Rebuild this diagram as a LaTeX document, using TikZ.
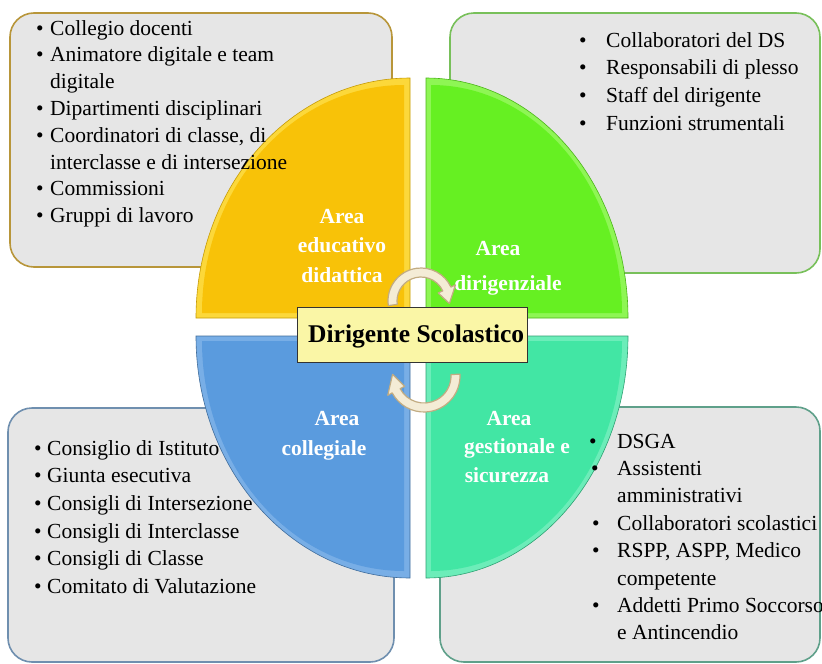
\documentclass[tikz,border=0pt]{standalone}
\usepackage{fontspec}
\setmainfont{Liberation Serif}
\definecolor{boxfill}{HTML}{E6E6E6}
\definecolor{tlborder}{HTML}{B8963A}
\definecolor{trborder}{HTML}{78C05A}
\definecolor{blborder}{HTML}{6F8FAF}
\definecolor{brborder}{HTML}{5FA08A}
\definecolor{yelM}{HTML}{F8C208}
\definecolor{yelL}{HTML}{FCD83A}
\definecolor{grnM}{HTML}{66F022}
\definecolor{grnL}{HTML}{8EF654}
\definecolor{bluM}{HTML}{5A9BDE}
\definecolor{bluL}{HTML}{78AEE6}
\definecolor{tealM}{HTML}{42E6A4}
\definecolor{tealL}{HTML}{6CEDB9}
\definecolor{dsfill}{HTML}{FAF6A6}
\definecolor{arrfill}{HTML}{F4ECD6}
\definecolor{arrdraw}{HTML}{C2AC82}
\begin{document}
\begin{tikzpicture}[x=1pt,y=-1pt,
  infobox/.style={rounded corners=24pt, fill=boxfill, line width=1.6pt},
  qlabel/.style={text=white, font=\bfseries\fontsize{21.5}{29.5}\selectfont, inner sep=0, anchor=base},
  listtext/.style={anchor=base west, inner sep=0, text=black},
  cyc/.style={fill=arrfill, draw=arrdraw, line width=1.2pt, line join=round}]
\useasboundingbox (0,0) rectangle (822,664);
\fill[white] (0,0) rectangle (822,664);

% info boxes
\draw[infobox, draw=tlborder] (10,13) rectangle (392,267);
\draw[infobox, draw=trborder] (450,13) rectangle (820,273);
\draw[infobox, draw=blborder] (8,408) rectangle (394,662);
\draw[infobox, draw=brborder] (440,407) rectangle (820,662);

% quadrants (outer bevel band + inner face)
\fill[yelL, draw=yelM!80!black, line width=0.6pt]
  (410,318) -- (410,78) arc[start angle=270, end angle=180, x radius=214, y radius=240] -- cycle;
\fill[yelM]
  (404,313) -- (404,85) arc[start angle=270, end angle=180, x radius=202, y radius=228] -- cycle;

\fill[grnL, draw=grnM!75!black, line width=0.6pt]
  (426,318) -- (426,78) arc[start angle=270, end angle=360, x radius=202, y radius=240] -- cycle;
\fill[grnM]
  (431,313) -- (431,85) arc[start angle=270, end angle=360, x radius=191, y radius=228] -- cycle;

\fill[bluL, draw=bluM!70!black, line width=0.6pt]
  (410,336) -- (196,336) arc[start angle=180, end angle=90, x radius=214, y radius=242] -- cycle;
\fill[bluM]
  (404,341) -- (202,341) arc[start angle=180, end angle=90, x radius=202, y radius=230] -- cycle;

\fill[tealL, draw=tealM!70!black, line width=0.6pt]
  (426,336) -- (628,336) arc[start angle=0, end angle=90, x radius=202, y radius=242] -- cycle;
\fill[tealM]
  (431,341) -- (622,341) arc[start angle=0, end angle=90, x radius=191, y radius=230] -- cycle;

% lists
\node[listtext, font=\fontsize{21.5}{26.8}\selectfont] (tltext) at (36,35) {\begin{tabular}[t]{@{}l@{\hspace{6.5pt}}l@{}}
\textbullet & Collegio docenti\\
\textbullet & Animatore digitale e team\\
 & digitale\\
\textbullet & Dipartimenti disciplinari\\
\textbullet & Coordinatori di classe, di\\
 & interclasse e di intersezione\\
\textbullet & Commissioni\\
\textbullet & Gruppi di lavoro
\end{tabular}};

\node[listtext, font=\fontsize{21.5}{27.7}\selectfont] (trtext) at (579,47) {\begin{tabular}[t]{@{}l@{\hspace{19.5pt}}l@{}}
\textbullet & Collaboratori del DS\\
\textbullet & Responsabili di plesso\\
\textbullet & Staff del dirigente\\
\textbullet & Funzioni strumentali
\end{tabular}};

\node[listtext, font=\fontsize{21.5}{27.7}\selectfont] (bltext) at (34,455) {\begin{tabular}[t]{@{}l@{\hspace{5.5pt}}l@{}}
\textbullet & Consiglio di Istituto\\
\textbullet & Giunta esecutiva\\
\textbullet & Consigli di Intersezione\\
\textbullet & Consigli di Interclasse\\
\textbullet & Consigli di Classe\\
\textbullet & Comitato di Valutazione
\end{tabular}};

\node[listtext, font=\fontsize{21.5}{27.4}\selectfont] (brtext) at (592,448) {\begin{tabular}[t]{@{}l@{\hspace{17.5pt}}l@{}}
\hspace{-3pt}\textbullet & DSGA\\
\hspace{-1pt}\textbullet & Assistenti\\
 & amministrativi\\
\textbullet & Collaboratori scolastici\\
\textbullet & RSPP, ASPP, Medico\\
 & competente\\
\textbullet & Addetti Primo Soccorso\\
 & e Antincendio
\end{tabular}};

% quadrant labels
\node[qlabel] (ylab) at (342,223) {\begin{tabular}[t]{@{}c@{}}Area\\educativo\\didattica\end{tabular}};
\node[qlabel] (glabA) at (498,255) {Area};
\node[qlabel] (glabB) at (508,290) {dirigenziale};
\node[qlabel] (blabA) at (337,425) {Area};
\node[qlabel] (blabB) at (324,455) {collegiale};
\node[qlabel] (tlabA) at (509,425) {Area};
\node[qlabel] (tlabB) at (517,453) {gestionale e};
\node[qlabel] (tlabC) at (507,482) {sicurezza};

% central box
\node[draw=black!80, fill=dsfill, line width=1pt, minimum width=230pt, minimum height=55pt, inner sep=0] (ds) at (412,334.5) {};
\node[anchor=base west, inner sep=0, font=\bfseries\fontsize{25.5}{30}\selectfont] (dstext) at (308,342) {Dirigente Scolastico};

% cycle arrows
\begin{scope}[shift={(421,301)}]
\path[cyc] (172:33) arc[start angle=172, end angle=335, radius=33] -- (335:38) -- (5:28.5) -- (335:19) -- (335:24) arc[start angle=335, end angle=172, radius=24] -- cycle;
\end{scope}
\begin{scope}[shift={(424,376)}]
\path[cyc] (-3:36) arc[start angle=-3, end angle=152, radius=36] -- (152:41) -- (183:31.5) -- (152:22) -- (152:27) arc[start angle=152, end angle=-3, radius=27] -- cycle;
\end{scope}
\end{tikzpicture}
\end{document}
